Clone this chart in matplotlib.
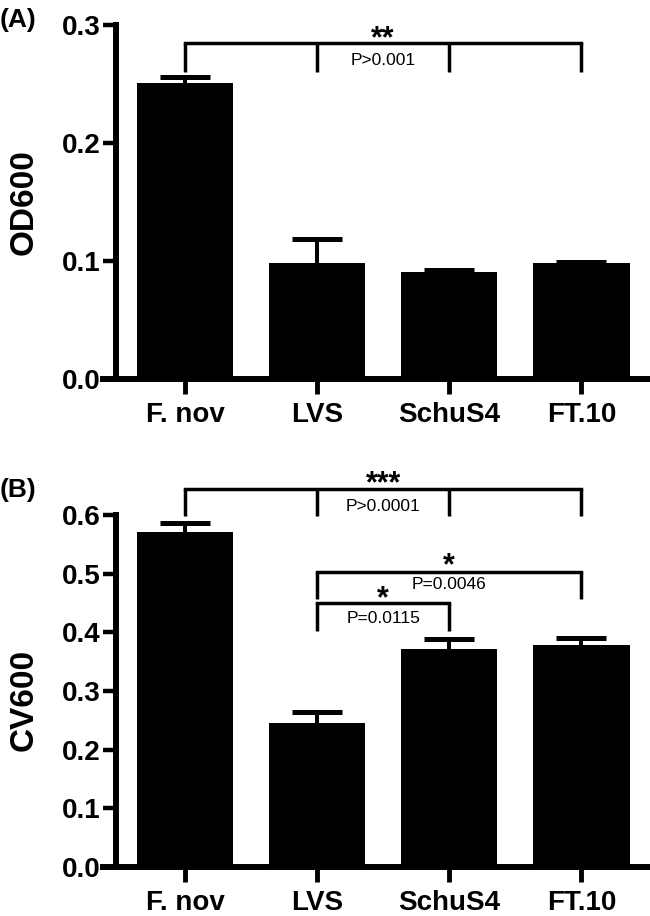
import numpy as np
import matplotlib
matplotlib.use('Agg')
import matplotlib.pyplot as plt

plt.rcParams['font.family'] = ['Liberation Sans', 'DejaVu Sans']

strains = ['F. nov', 'LVS', 'SchuS4', 'FT.10']

# panel A
od600 = [0.251, 0.098, 0.091, 0.098]
od600_err = [0.005, 0.021, 0.001, 0.001]

# panel B
cv600 = [0.571, 0.245, 0.372, 0.379]
cv600_err = [0.016, 0.020, 0.017, 0.011]

# significance brackets: groups, bracket y, drop y, stars, star y, p text, p y
od_brackets = [([0, 1, 2, 3], 0.285, 0.260, '**', 0.2925, 'P>0.001', 0.2716)]
cv_brackets = [
    ([0, 1, 2, 3], 0.644, 0.598, '***', 0.661, 'P>0.0001', 0.618),
    ([1, 3], 0.502, 0.457, '*', 0.522, 'P=0.0046', 0.485),
    ([1, 2], 0.450, 0.402, '*', 0.466, 'P=0.0115', 0.426),
]


def draw_panel(ax, vals, errs, ymax, ylabel, brackets):
    x = np.arange(len(strains))
    vals = np.array(vals)
    top = vals + np.array(errs)
    ax.bar(x, vals, width=0.73, color='black', zorder=2)
    ax.vlines(x, vals, top, color='black', lw=2.9, zorder=2)
    ax.hlines(top, x - 0.19, x + 0.19, color='black', lw=3.6, zorder=2)

    for groups, yb, yd, stars, ys, ptxt, yp in brackets:
        ax.plot([groups[0], groups[-1]], [yb, yb], color='black', lw=2.5,
                clip_on=False, solid_capstyle='projecting')
        for g in groups:
            ax.plot([g, g], [yb, yd], color='black', lw=2.5, clip_on=False,
                    solid_capstyle='butt')
        xm = (groups[0] + groups[-1]) / 2
        ax.annotate(stars, (xm, ys), xytext=(0, -9.5), textcoords='offset points',
                    ha='center', va='baseline', fontsize=22, fontweight='bold',
                    annotation_clip=False)
        ax.annotate(ptxt, (xm, yp), xytext=(0, -4.5), textcoords='offset points',
                    ha='center', va='baseline', fontsize=12.5, annotation_clip=False)

    ax.spines['top'].set_visible(False)
    ax.spines['right'].set_visible(False)
    ax.spines['left'].set_position(('data', -0.523))
    ax.spines['left'].set_bounds(0, ymax)
    ax.spines['left'].set_linewidth(4.3)
    ax.spines['bottom'].set_linewidth(4.3)

    ax.set_xlim(-0.621, 3.52)
    ax.set_ylim(0, ymax)
    ax.set_xticks(x)
    ax.set_xticklabels(strains, fontsize=20, fontweight='bold')
    yt = np.arange(0, ymax + 0.01, 0.1)
    ax.set_yticks(yt)
    ax.set_yticklabels(['%.1f' % v for v in yt], fontsize=20, fontweight='bold')
    ax.tick_params(axis='y', length=9.4, width=3.2, pad=2)
    ax.tick_params(axis='x', length=10.8, width=3.5, pad=6)
    ax.set_ylabel(ylabel, fontsize=24, fontweight='bold')


fig = plt.figure(figsize=(6.5, 9.16), dpi=100)
ax_a = fig.add_axes([0.1585, 0.5862, 0.8415, 0.3865])
ax_b = fig.add_axes([0.1585, 0.0535, 0.8415, 0.3843])

draw_panel(ax_a, od600, od600_err, 0.3, 'OD600', od_brackets)
draw_panel(ax_b, cv600, cv600_err, 0.6, 'CV600', cv_brackets)
ax_a.yaxis.set_label_coords(-0.115, 0.5)
ax_b.yaxis.set_label_coords(-0.115, 0.475)

fig.text(0.027, 0.978, '(A)', fontsize=19, fontweight='bold', ha='center', va='center')
fig.text(0.027, 0.465, '(B)', fontsize=19, fontweight='bold', ha='center', va='center')

fig.savefig('out.png', dpi=100)
